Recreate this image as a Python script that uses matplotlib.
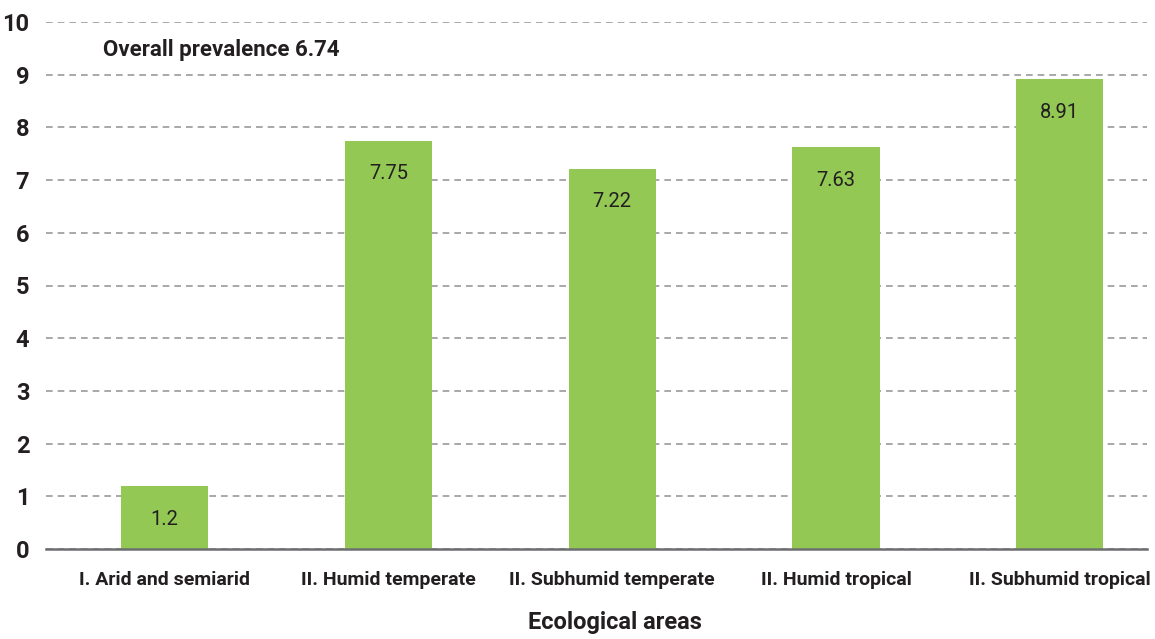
import matplotlib
matplotlib.use('Agg')
import matplotlib.pyplot as plt
from matplotlib import font_manager

areas = ['I. Arid and semiarid', 'II. Humid temperate', 'II. Subhumid temperate',
         'II. Humid tropical', 'II. Subhumid tropical']
prevalence = [1.2, 7.75, 7.22, 7.63, 8.91]
overall = 6.74
yticks = list(range(0, 11))

names = set(f.name for f in font_manager.fontManager.ttflist)
fam = 'DejaVu Sans'
for f in ['Liberation Sans Narrow', 'DejaVu Sans Condensed', 'Roboto']:
    if f in names:
        fam = f
        break
plt.rcParams['font.family'] = [fam, 'DejaVu Sans']

txt = '#231f20'
fig = plt.figure(figsize=(11.55, 6.39), dpi=100)
ax = fig.add_axes([46/1155, 1-549/639, 1101/1155, 527/639])

x = list(range(len(areas)))
bars = ax.bar(x, prevalence, width=0.39, color='#92c853', zorder=3)
for b, v in zip(bars, prevalence):
    ax.annotate(str(v), (b.get_x() + b.get_width()/2, v), xytext=(0, -24),
                textcoords='offset points', ha='center', va='center',
                fontsize=14.5, color=txt)

ax.set_xlim(-0.53, 4.39)
ax.set_ylim(0, 10)
ax.set_yticks(yticks, [str(t) for t in yticks], fontweight='bold', fontsize=17)
ax.set_xticks(x, areas, fontweight='bold', fontsize=14)
ax.grid(axis='y', linestyle=(0, (4, 3)), color='#999999', linewidth=1.2, zorder=0)
for s in ['top', 'right', 'left']:
    ax.spines[s].set_visible(False)
ax.spines['bottom'].set_color('#6d6e71')
ax.spines['bottom'].set_linewidth(1.8)
ax.spines['bottom'].set_zorder(4)
ax.tick_params(axis='both', length=0, colors=txt)
ax.tick_params(axis='y', pad=12)
ax.tick_params(axis='x', pad=16)

ax.text(0.052, 9.47, 'Overall prevalence ' + str(overall), transform=ax.get_yaxis_transform(),
        fontsize=16, fontweight='bold', color=txt, va='center', ha='left')
fig.text(615/1155, 1-622/639, 'Ecological areas', fontsize=17, fontweight='bold',
         color=txt, ha='center', va='center')

fig.savefig('out.png', dpi=100)
